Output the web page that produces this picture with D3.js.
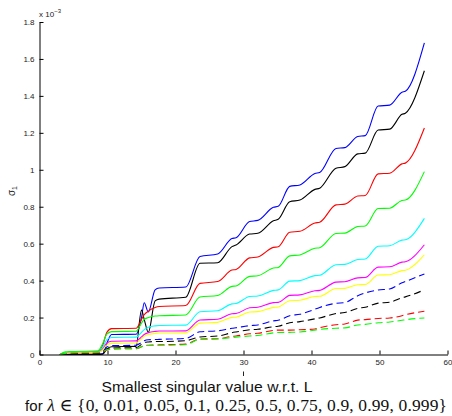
<!DOCTYPE html>
<html><head><meta charset="utf-8">
<script src="https://cdn.jsdelivr.net/npm/d3@7"></script>
<style>body{margin:0;background:#fff}svg{display:block}</style>
</head><body>
<svg id="c" width="452" height="416"></svg>
<script>
// shared x knots (L)
const knotsL = [3.0, 3.8, 4.4, 8.6, 9.3, 9.9, 10.6, 14.2, 15.0, 15.4, 16.0, 17.0, 17.6,
  21.5, 23.6, 26.2, 28.3, 28.9, 30.9, 32.1, 34.4, 35.1, 36.8, 38.3, 40.5, 41.2, 43.6, 44.9, 46.8, 47.9, 49.8, 51.5, 53.3, 53.8, 56.6];

// sigma_1 (x 1e-3) for each lambda
const sBlue = [0, 0, 0.002, 0.003, 0.004, 0.06, 0.108, 0.110, 0.20, 0.28, 0.23, 0.35, 0.36,
  0.365, 0.530, 0.544, 0.628, 0.632, 0.720, 0.726, 0.797, 0.802, 0.910, 0.918, 0.980, 0.985, 1.115, 1.120, 1.180, 1.185, 1.345, 1.350, 1.420, 1.425, 1.687];
const sBlack = [0, 0, 0, 0, 0.002, 0.03, 0.042, 0.044, 0.24, 0.19, 0.12, 0.29, 0.30,
  0.31, 0.494, 0.497, 0.584, 0.593, 0.652, 0.656, 0.724, 0.732, 0.827, 0.836, 0.894, 0.900, 1.008, 1.017, 1.086, 1.090, 1.215, 1.220, 1.300, 1.306, 1.536];
const sRed = [0, 0.008, 0.012, 0.014, 0.05, 0.12, 0.14, 0.142, 0.19, 0.215, 0.235, 0.255, 0.26,
  0.265, 0.385, 0.395, 0.457, 0.460, 0.523, 0.528, 0.580, 0.583, 0.662, 0.667, 0.712, 0.716, 0.810, 0.814, 0.858, 0.861, 0.978, 0.981, 1.032, 1.036, 1.226];
const sGreen = [0, 0.014, 0.016, 0.02, 0.06, 0.11, 0.124, 0.126, 0.17, 0.19, 0.20, 0.208, 0.21,
  0.214, 0.311, 0.319, 0.369, 0.371, 0.423, 0.426, 0.468, 0.471, 0.534, 0.539, 0.575, 0.578, 0.655, 0.657, 0.693, 0.696, 0.790, 0.792, 0.834, 0.836, 0.990];
const sCyan = [0, 0.008, 0.01, 0.012, 0.04, 0.08, 0.092, 0.094, 0.12, 0.135, 0.148, 0.155, 0.157,
  0.159, 0.231, 0.237, 0.274, 0.276, 0.314, 0.317, 0.347, 0.350, 0.397, 0.400, 0.427, 0.429, 0.486, 0.488, 0.514, 0.517, 0.586, 0.589, 0.619, 0.621, 0.737];
const sMagenta = [0, 0.006, 0.008, 0.01, 0.03, 0.062, 0.072, 0.074, 0.095, 0.108, 0.118, 0.125, 0.127,
  0.128, 0.187, 0.191, 0.221, 0.222, 0.253, 0.256, 0.281, 0.282, 0.320, 0.323, 0.345, 0.347, 0.392, 0.394, 0.415, 0.417, 0.473, 0.475, 0.500, 0.502, 0.594];
const sYellow = [0, 0.006, 0.008, 0.01, 0.025, 0.052, 0.06, 0.062, 0.085, 0.098, 0.108, 0.114, 0.116,
  0.117, 0.170, 0.174, 0.201, 0.202, 0.230, 0.232, 0.255, 0.257, 0.291, 0.294, 0.314, 0.315, 0.357, 0.358, 0.378, 0.379, 0.430, 0.432, 0.454, 0.456, 0.540];
const sBlueDash = [0, 0.002, 0.004, 0.006, 0.015, 0.04, 0.048, 0.05, 0.065, 0.075, 0.08, 0.081, 0.082,
  0.087, 0.123, 0.128, 0.142, 0.145, 0.156, 0.160, 0.182, 0.185, 0.210, 0.218, 0.245, 0.255, 0.277, 0.281, 0.318, 0.333, 0.349, 0.355, 0.388, 0.395, 0.436];
const sBlackDash = [0, 0.002, 0.004, 0.006, 0.012, 0.03, 0.035, 0.037, 0.055, 0.065, 0.068, 0.07, 0.07,
  0.075, 0.095, 0.100, 0.118, 0.122, 0.134, 0.137, 0.150, 0.153, 0.172, 0.178, 0.193, 0.198, 0.222, 0.227, 0.250, 0.256, 0.278, 0.283, 0.307, 0.312, 0.350];
const sRedDash = [0, 0.004, 0.006, 0.008, 0.012, 0.025, 0.03, 0.032, 0.042, 0.048, 0.05, 0.051, 0.052,
  0.056, 0.084, 0.085, 0.098, 0.100, 0.112, 0.115, 0.130, 0.132, 0.132, 0.134, 0.138, 0.145, 0.161, 0.165, 0.186, 0.189, 0.195, 0.198, 0.210, 0.215, 0.234];
const sGreenDash = [0, 0.006, 0.01, 0.012, 0.016, 0.026, 0.03, 0.032, 0.042, 0.047, 0.049, 0.05, 0.05,
  0.053, 0.082, 0.084, 0.092, 0.094, 0.100, 0.103, 0.117, 0.119, 0.120, 0.122, 0.132, 0.136, 0.142, 0.144, 0.160, 0.163, 0.172, 0.176, 0.185, 0.188, 0.198];

const xTicks = [0, 10, 20, 30, 40, 50, 60];
const yTicks = [0, 0.2, 0.4, 0.6, 0.8, 1, 1.2, 1.4, 1.6, 1.8];

const seriesList = [
  {v: sBlue, c: "#0000ff", d: null},
  {v: sBlack, c: "#000000", d: null},
  {v: sRed, c: "#ff0000", d: null},
  {v: sGreen, c: "#00ff00", d: null},
  {v: sCyan, c: "#00ffff", d: null},
  {v: sMagenta, c: "#ff00ff", d: null},
  {v: sYellow, c: "#ffff00", d: null},
  {v: sBlueDash, c: "#0000ff", d: "7,4"},
  {v: sBlackDash, c: "#000000", d: "7,4"},
  {v: sRedDash, c: "#ff0000", d: "7,4"},
  {v: sGreenDash, c: "#00ff00", d: "7,4"}
];

const svg = d3.select("#c");
const x = d3.scaleLinear().domain([0, 60]).range([39.5, 447.5]);
const y = d3.scaleLinear().domain([0, 1.8]).range([354.5, 22]);

const line = d3.line().x((d, i) => x(knotsL[i])).y(d => y(d)).curve(d3.curveMonotoneX);

svg.append("g").selectAll("path").data(seriesList).join("path")
  .attr("d", s => line(s.v))
  .attr("fill", "none")
  .attr("stroke", s => s.c)
  .attr("stroke-width", 1.1)
  .attr("stroke-dasharray", s => s.d);

const fontTick = "Liberation Sans, Arial, Helvetica, sans-serif";
const gx = svg.append("g").attr("transform", "translate(0,354.5)")
  .call(d3.axisBottom(x).tickValues(xTicks).tickSizeInner(-4).tickSizeOuter(0).tickPadding(5).tickFormat(d3.format("d")));
const gy = svg.append("g").attr("transform", "translate(39.5,0)")
  .call(d3.axisLeft(y).tickValues(yTicks).tickSizeInner(-4).tickSizeOuter(0).tickPadding(5).tickFormat(d => d === 0 ? "0" : d3.format("")(+d.toFixed(1))));
[gx, gy].forEach(g => {
  g.selectAll("text").attr("font-family", fontTick).attr("font-size", 8).attr("fill", "#222");
  g.selectAll("line").attr("stroke", "#000");
  g.select(".domain").attr("stroke", "#000").attr("stroke-width", 1);
});

// exponent label
const ex = svg.append("text").attr("x", 39).attr("y", 17).attr("font-family", fontTick).attr("font-size", 8).attr("fill", "#222");
ex.append("tspan").text("x 10");
ex.append("tspan").attr("font-size", 6).attr("dy", -4).text("\u22123");

// y label
const yl = svg.append("text").attr("transform", "translate(15,191) rotate(-90)").attr("text-anchor", "middle")
  .attr("font-family", fontTick).attr("font-size", 10).attr("fill", "#222");
yl.append("tspan").text("\u03c3");
yl.append("tspan").attr("font-size", 7).attr("dy", 2).text("1");

// small mark under the axis
svg.append("line").attr("x1", 243.5).attr("x2", 243.5).attr("y1", 371.5).attr("y2", 376).attr("stroke", "#222").attr("stroke-width", 1);

// x label
svg.append("text").attr("x", 101.5).attr("y", 392).attr("font-family", fontTick).attr("font-size", 15).attr("fill", "#111")
  .attr("textLength", 211).attr("lengthAdjust", "spacingAndGlyphs")
  .text("Smallest singular value w.r.t. L");
const xl2 = svg.append("text").attr("x", 25).attr("y", 411).attr("fill", "#111")
  .attr("textLength", 422).attr("lengthAdjust", "spacing");
xl2.append("tspan").attr("font-family", fontTick).attr("font-size", 15).text("for ");
xl2.append("tspan").attr("font-family", "Liberation Serif, DejaVu Serif, serif").attr("font-size", 17.5).attr("font-style", "italic").text("\u03bb");
xl2.append("tspan").attr("font-family", "Liberation Serif, DejaVu Serif, serif").attr("font-size", 17.5)
  .text(" \u2208 {0, 0.01, 0.05, 0.1, 0.25, 0.5, 0.75, 0.9, 0.99, 0.999}");
</script>
</body></html>
